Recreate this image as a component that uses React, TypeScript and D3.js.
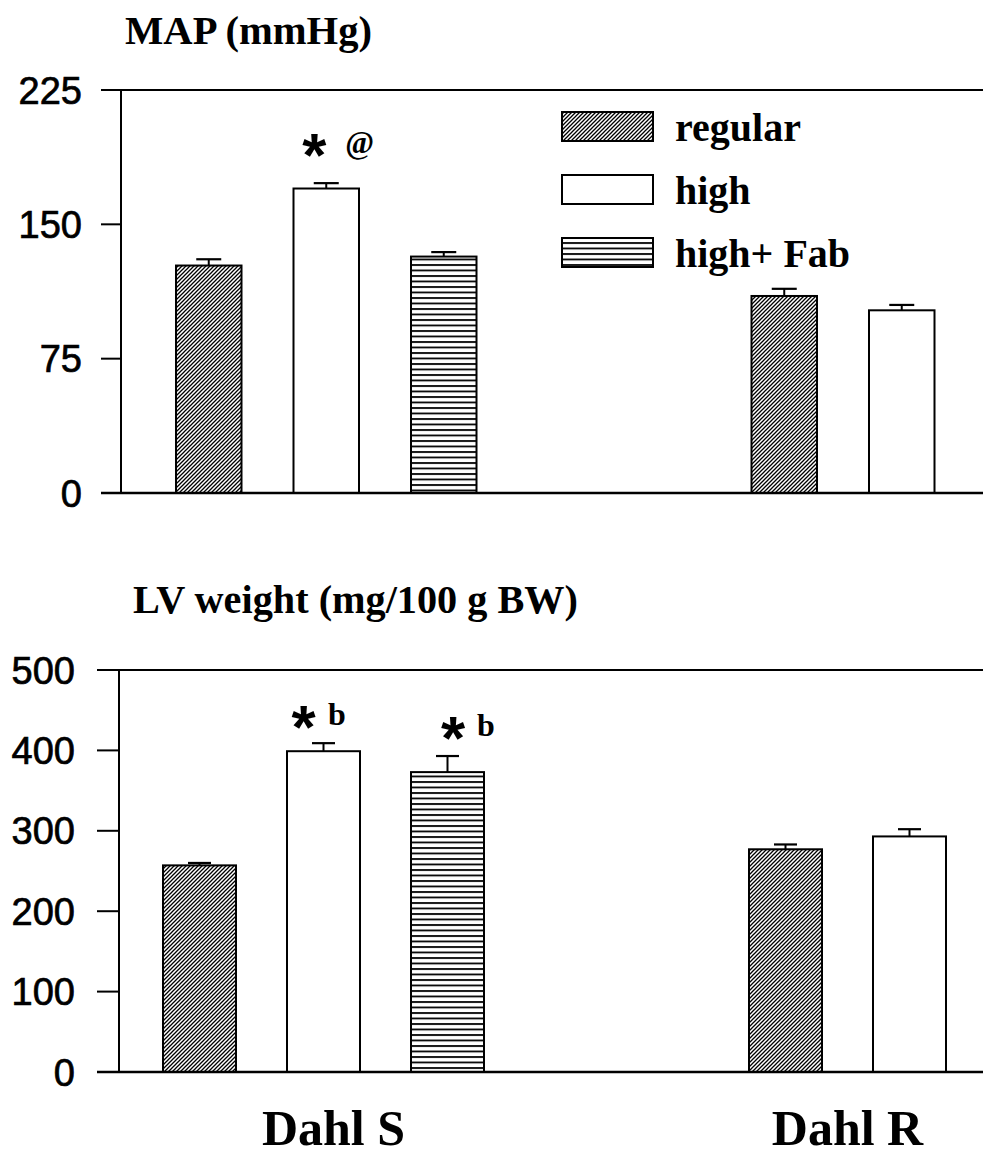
import React from "react";
import * as d3 from "d3";

// ---------- data ----------
const groups = ["Dahl S", "Dahl R"];
const seriesNames = ["regular", "high", "high+ Fab"];

const mapMeans = [[127, 170, 132], [110, 102]];
const mapErrors = [[3.5, 3, 2.5], [4, 3]];
const mapTicks = [0, 75, 150, 225];

const lvMeans = [[257, 399, 373], [277, 293]];
const lvErrors = [[3, 10, 20], [6, 9]];
const lvTicks = [0, 100, 200, 300, 400, 500];

const mapMarks = [{ group: 0, series: 1, letter: "@" }];
const lvMarks = [
  { group: 0, series: 1, letter: "b" },
  { group: 0, series: 2, letter: "b" },
];

// ---------- layout ----------
const W = 983;
const H = 1159;
const SERIF = "'Liberation Serif', 'Times New Roman', serif";
const SANS = "'Liberation Sans', Arial, sans-serif";

const fills = ["url(#diag)", "#ffffff", "url(#horiz)"];

type PanelCfg = {
  title: string;
  titleX: number;
  titleY: number;
  titleLen: number;
  yMax: number;
  ticks: number[];
  means: number[][];
  errors: number[][];
  marks: { group: number; series: number; letter: string }[];
  markLayout: { starDx: number; letterDx: number; rise: number }[];
  letterSize: number;
  yTop: number;
  yBottom: number;
  axisX: number;
  tickLeft: number;
  labelX: number;
  firstBar: number;
  barW: number;
  barStep: number;
  groupStep: number;
  capW: number;
};

const topCfg: PanelCfg = {
  title: "MAP (mmHg)",
  titleX: 125,
  titleY: 44,
  titleLen: 247,
  yMax: 225,
  ticks: mapTicks,
  means: mapMeans,
  errors: mapErrors,
  marks: mapMarks,
  markLayout: [{ starDx: -12, letterDx: 19, rise: 40 }],
  letterSize: 31,
  yTop: 90,
  yBottom: 493,
  axisX: 121,
  tickLeft: 101,
  labelX: 82,
  firstBar: 176,
  barW: 65.5,
  barStep: 117.5,
  groupStep: 575.5,
  capW: 25,
};

const bottomCfg: PanelCfg = {
  title: "LV weight (mg/100 g BW)",
  titleX: 133,
  titleY: 613,
  titleLen: 445,
  yMax: 500,
  ticks: lvTicks,
  means: lvMeans,
  errors: lvErrors,
  marks: lvMarks,
  markLayout: [
    { starDx: -20, letterDx: 4.5, rise: 28 },
    { starDx: 5.5, letterDx: 29.5, rise: 30 },
  ],
  letterSize: 32,
  yTop: 670,
  yBottom: 1072,
  axisX: 119,
  tickLeft: 97,
  labelX: 75,
  firstBar: 163,
  barW: 73,
  barStep: 124,
  groupStep: 586,
  capW: 23,
};

function Panel({ c }: { c: PanelCfg }) {
  const y = d3.scaleLinear().domain([0, c.yMax]).range([c.yBottom, c.yTop]);
  const xGroup = d3
    .scaleLinear()
    .domain([0, 1])
    .range([c.firstBar, c.firstBar + c.groupStep]);
  const xSeries = d3
    .scaleBand<string>()
    .domain(seriesNames)
    .range([0, 2 * c.barStep + c.barW])
    .paddingInner(1 - c.barW / c.barStep)
    .paddingOuter(0);
  const bw = xSeries.bandwidth();
  const barX = (g: number, s: number) =>
    xGroup(g) + (xSeries(seriesNames[s]) as number);

  return (
    <g>
      <text
        x={c.titleX}
        y={c.titleY}
        fontFamily={SERIF}
        fontWeight="bold"
        fontSize={39}
        textLength={c.titleLen}
        lengthAdjust="spacingAndGlyphs"
      >
        {c.title}
      </text>
      {/* bars */}
      {c.means.map((row, g) =>
        row.map((v, s) => {
          const x0 = barX(g, s);
          const cx = x0 + bw / 2;
          const yv = y(v);
          const ye = y(v + c.errors[g][s]);
          return (
            <g key={`b${g}-${s}`}>
              <rect
                x={x0}
                y={yv}
                width={bw}
                height={c.yBottom - yv}
                fill={fills[s]}
                stroke="#000"
                strokeWidth={2}
              />
              <line x1={cx} x2={cx} y1={yv} y2={ye} stroke="#000" strokeWidth={2} />
              <line
                x1={cx - c.capW / 2}
                x2={cx + c.capW / 2}
                y1={ye}
                y2={ye}
                stroke="#000"
                strokeWidth={2.2}
              />
            </g>
          );
        })
      )}
      {/* axes */}
      <line x1={c.axisX} x2={c.axisX} y1={c.yTop} y2={c.yBottom} stroke="#000" strokeWidth={2} />
      <line x1={c.tickLeft} x2={W} y1={c.yTop} y2={c.yTop} stroke="#000" strokeWidth={2} />
      <line x1={c.tickLeft} x2={W} y1={c.yBottom} y2={c.yBottom} stroke="#000" strokeWidth={2.4} />
      {c.ticks.map((t) => (
        <g key={`t${t}`}>
          <line x1={c.tickLeft} x2={c.axisX} y1={y(t)} y2={y(t)} stroke="#000" strokeWidth={2} />
          <text
            x={c.labelX}
            y={y(t)}
            dy="0.36em"
            textAnchor="end"
            fontFamily={SANS}
            fontSize={38}
            stroke="#000"
            strokeWidth={0.7}
          >
            {t}
          </text>
        </g>
      ))}
      {/* significance marks */}
      {c.marks.map((m, i) => {
        const lay = c.markLayout[i];
        const cx = barX(m.group, m.series) + bw / 2;
        const ye = y(c.means[m.group][m.series] + c.errors[m.group][m.series]);
        const cy = ye - lay.rise;
        return (
          <g key={`m${i}`}>
            <text
              x={cx + lay.starDx}
              y={cy + 33}
              textAnchor="middle"
              fontFamily={SANS}
              fontWeight="bold"
              fontSize={62}
            >
              *
            </text>
            <text
              x={cx + lay.letterDx}
              y={cy + 10}
              fontFamily={SERIF}
              fontWeight="bold"
              fontSize={c.letterSize}
            >
              {m.letter}
            </text>
          </g>
        );
      })}
    </g>
  );
}

const legendRows = [112, 175, 238];
const groupLabelDx = [10, 0];

export default function App() {
  // category labels placed under the drawn bars of the lower panel
  const c = bottomCfg;
  const xGroup = d3
    .scaleLinear()
    .domain([0, 1])
    .range([c.firstBar, c.firstBar + c.groupStep]);
  return (
    <svg
      width={W}
      height={H}
      viewBox={`0 0 ${W} ${H}`}
      style={{ position: "absolute", left: 0, top: 0, background: "#fff" }}
    >
      <defs>
        <pattern id="diag" patternUnits="userSpaceOnUse" width={4} height={4}>
          <rect width={4} height={4} fill="#fff" />
          <path d="M-1,1 l2,-2 M0,4 l4,-4 M3,5 l2,-2" stroke="#000" strokeWidth={1.3} />
        </pattern>
        <pattern id="horiz" patternUnits="userSpaceOnUse" width={8} height={5.5}>
          <rect width={8} height={5.5} fill="#fff" />
          <line x1={0} x2={8} y1={1} y2={1} stroke="#000" strokeWidth={1.8} />
        </pattern>
      </defs>
      <rect width={W} height={H} fill="#fff" />
      <Panel c={topCfg} />
      <Panel c={bottomCfg} />
      {/* legend */}
      {seriesNames.map((s, i) => (
        <g key={s}>
          <rect
            x={562}
            y={legendRows[i]}
            width={91}
            height={29}
            fill={fills[i]}
            stroke="#000"
            strokeWidth={2}
          />
          <text
            x={675}
            y={legendRows[i] + 29}
            fontFamily={SERIF}
            fontWeight="bold"
            fontSize={40}
          >
            {s}
          </text>
        </g>
      ))}
      {/* group labels */}
      {groups.map((g, gi) => {
        const n = c.means[gi].length;
        const left = xGroup(gi);
        const right = left + (n - 1) * c.barStep + c.barW;
        return (
          <text
            key={g}
            x={(left + right) / 2 + groupLabelDx[gi]}
            y={1145}
            textAnchor="middle"
            fontFamily={SERIF}
            fontWeight="bold"
            fontSize={50}
          >
            {g}
          </text>
        );
      })}
    </svg>
  );
}
